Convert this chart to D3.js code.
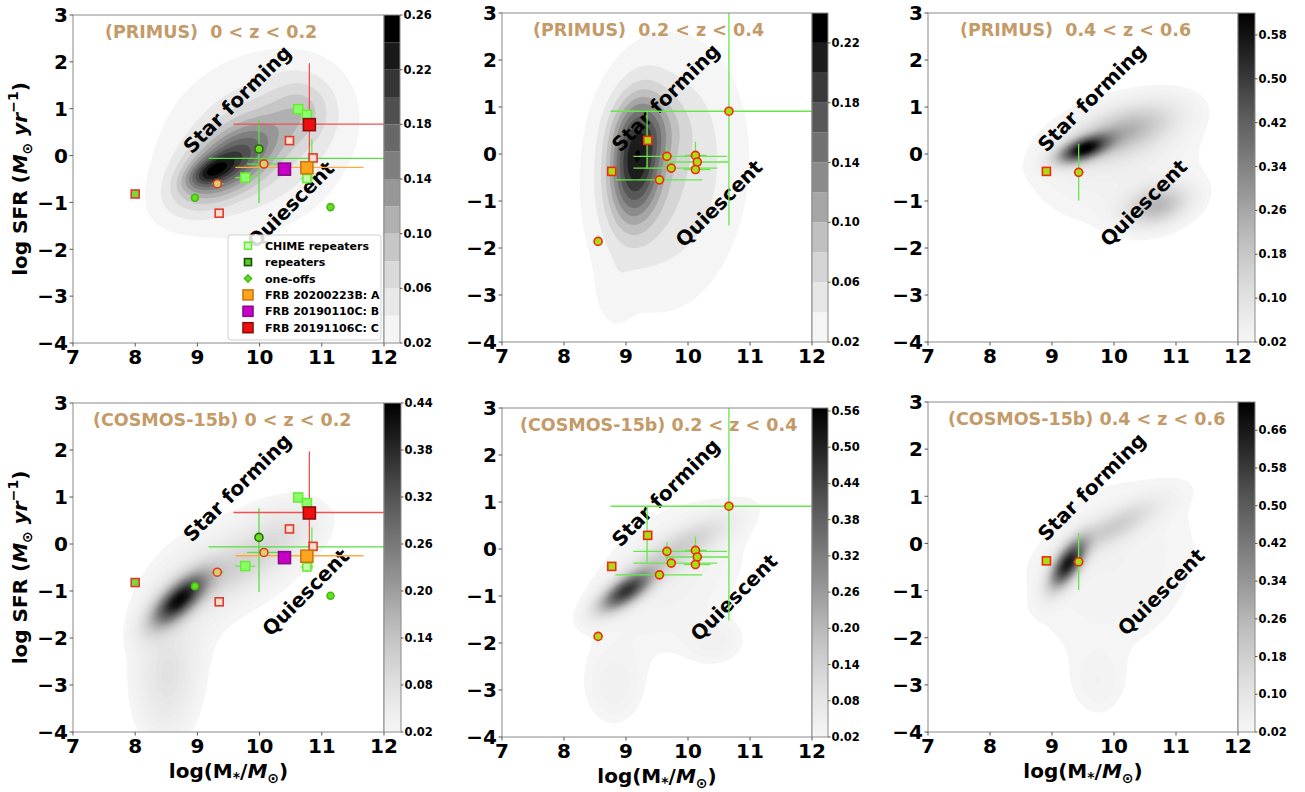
<!DOCTYPE html>
<html><head><meta charset="utf-8">
<script src="https://cdn.jsdelivr.net/npm/d3@7"></script>
<style>
body{margin:0;background:#fff}
svg{display:block}
text{font-family:"DejaVu Sans",sans-serif;font-weight:bold}
</style>
</head><body>
<svg id="chart" width="1305" height="792"></svg>
<script>
// ---------------- DATA ----------------
const xTicks = [7, 8, 9, 10, 11, 12];
const yTicks = [3, 2, 1, 0, -1, -2, -3, -4];
const panelTitles = ["(PRIMUS)  0 < z < 0.2", "(PRIMUS)  0.2 < z < 0.4", "(PRIMUS)  0.4 < z < 0.6",
  "(COSMOS-15b) 0 < z < 0.2", "(COSMOS-15b) 0.2 < z < 0.4", "(COSMOS-15b) 0.4 < z < 0.6"];
const regionLabels = ["Star forming", "Quiescent"];
const legendLabels = ["CHIME repeaters", "repeaters", "one-offs", "FRB 20200223B: A", "FRB 20190110C: B", "FRB 20191106C: C"];
const legendKinds = ["chimeL", "repL", "oneL", "AL", "BL", "CL"];

// colorbar ranges and tick labels
const cbarRanges = [[0.02, 0.26], [0.02, 0.24], [0.02, 0.62], [0.02, 0.44], [0.02, 0.565], [0.02, 0.72]];
const cbarDiscrete = [true, true, false, false, false, false];
const cbarTicksP1 = [0.02, 0.06, 0.10, 0.14, 0.18, 0.22, 0.26];
const cbarTicksP2 = [0.02, 0.06, 0.10, 0.14, 0.18, 0.22];
const cbarTicksP3 = [0.02, 0.10, 0.18, 0.26, 0.34, 0.42, 0.50, 0.58];
const cbarTicksC1 = [0.02, 0.08, 0.14, 0.20, 0.26, 0.32, 0.38, 0.44];
const cbarTicksC2 = [0.02, 0.08, 0.14, 0.20, 0.26, 0.32, 0.38, 0.44, 0.50, 0.56];
const cbarTicksC3 = [0.02, 0.10, 0.18, 0.26, 0.34, 0.42, 0.50, 0.58, 0.66];

// density fields: [cx, cy, sx, sy, rho, amplitude]
const densityPrimusLow = [[9.2, -0.35, 0.25, 0.22, 0.5, 0.08], [9.5, -0.15, 0.55, 0.6, 0.6, 0.14], [9.95, 0.25, 1.05, 1.3, 0.2, 0.065], [10.7, 1.0, 0.35, 0.5, 0, 0.04]];
const densityPrimusMid = [[9.15, -0.2, 0.3, 0.9, 0.15, 0.16], [9.4, 0.6, 0.4, 0.5, 0, 0.035], [9.65, -0.4, 0.9, 2.0, 0.1, 0.06], [8.8, -3.0, 0.2, 0.5, 0, 0.015]];
const densityPrimusHigh = [[9.5, 0.1, 0.28, 0.2, 0.55, 0.5], [10.2, 0.5, 0.55, 0.4, 0.5, 0.2], [10.7, -1.1, 0.35, 0.3, 0.3, 0.2], [10.0, -0.2, 1.05, 1.0, 0.1, 0.045]];
const densityCosmosLow = [[8.7, -1.2, 0.3, 0.38, 0.7, 0.35], [9.6, -0.5, 0.7, 0.55, 0.75, 0.07], [8.5, -2.9, 0.35, 0.9, 0, 0.05], [10.4, 0.4, 0.45, 0.45, 0.3, 0.035], [9.5, -0.5, 1.0, 0.95, 0.35, 0.04], [8.6, -2.5, 0.5, 1.3, 0.3, 0.025]];
const densityCosmosMid = [[9.0, -0.9, 0.3, 0.3, 0.7, 0.42], [9.9, 0.05, 0.55, 0.45, 0.8, 0.12], [9.7, -0.6, 1.0, 1.3, 0.35, 0.04], [8.8, -3.0, 0.35, 0.6, 0, 0.035], [10.45, -2.0, 0.35, 0.35, 0, 0.03]];
const densityCosmosHigh = [[9.25, -0.45, 0.2, 0.35, 0.65, 0.6], [10.0, 0.35, 0.5, 0.4, 0.8, 0.16], [10.0, -0.5, 1.08, 1.5, 0.2, 0.04], [9.75, -3.0, 0.3, 0.5, 0, 0.03]];

// FRB host points
const hostsLowZ = [
  {x: 8.00, y: -0.82, kind: "rep"}, {x: 8.96, y: -0.90, kind: "one"}, {x: 9.32, y: -0.60, kind: "oneRed"},
  {x: 9.35, y: -1.23, kind: "repOpen"}, {x: 9.77, y: -0.47, kind: "chime"}, {x: 9.99, y: 0.14, kind: "oneDark"},
  {x: 10.07, y: -0.18, kind: "oneRed"}, {x: 10.48, y: 0.32, kind: "repOpen"}, {x: 10.62, y: 0.99, kind: "chime"},
  {x: 10.76, y: 0.87, kind: "chime"}, {x: 10.76, y: -0.49, kind: "chimeOpen"}, {x: 10.86, y: -0.05, kind: "repOpen"},
  {x: 11.14, y: -1.10, kind: "one"}, {x: 10.40, y: -0.29, kind: "B"}, {x: 10.76, y: -0.26, kind: "A"},
  {x: 10.80, y: 0.66, kind: "C"}
];
const errLowZ = [
  {x: 9.99, y: -0.06, xlo: 9.18, xhi: 12.6, ylo: -1.02, yhi: 0.76, src: "one"},
  {x: 10.07, y: -0.18, xlo: 9.80, xhi: 10.31, src: "one"},
  {x: 9.32, y: -0.60, xlo: 9.23, xhi: 9.42, src: "one"},
  {x: 9.77, y: -0.47, xlo: 9.61, xhi: 9.93, src: "chime"},
  {x: 10.84, y: -0.10, ylo: -0.55, yhi: 0.35, src: "chime"},
  {x: 10.76, y: -0.49, xlo: 10.66, xhi: 10.86, ylo: -0.60, yhi: -0.38, src: "chime"},
  {x: 10.76, y: -0.25, xlo: 9.61, xhi: 11.67, src: "A"},
  {x: 10.80, y: 0.67, xlo: 9.58, xhi: 12.6, ylo: -0.30, yhi: 1.97, src: "C"}
];
const hostsMidZ = [
  {x: 8.77, y: -0.37, kind: "hostSq"}, {x: 9.35, y: 0.29, kind: "hostSq"}, {x: 8.55, y: -1.86, kind: "hostCirc"},
  {x: 9.54, y: -0.55, kind: "hostCirc"}, {x: 9.66, y: -0.05, kind: "hostCirc"}, {x: 9.73, y: -0.30, kind: "hostCirc"},
  {x: 10.12, y: -0.03, kind: "hostCirc"}, {x: 10.15, y: -0.17, kind: "hostCirc"}, {x: 10.12, y: -0.33, kind: "hostCirc"},
  {x: 10.66, y: 0.91, kind: "hostCirc"}
];
const errMidZ = [
  {x: 10.66, y: 0.91, xlo: 8.75, xhi: 12.6, ylo: -1.52, yhi: 3.6, src: "host"},
  {x: 9.34, y: 0.29, ylo: -0.31, yhi: 0.91, src: "host"},
  {x: 9.66, y: -0.05, xlo: 9.12, xhi: 10.63, ylo: -0.25, yhi: 0.15, src: "host"},
  {x: 10.12, y: -0.03, xlo: 9.95, xhi: 10.30, ylo: -0.25, yhi: 0.26, src: "host"},
  {x: 10.15, y: -0.17, xlo: 9.63, xhi: 10.65, src: "host"},
  {x: 9.73, y: -0.30, xlo: 9.12, xhi: 10.47, src: "host"},
  {x: 10.12, y: -0.33, xlo: 9.93, xhi: 10.36, src: "host"},
  {x: 9.54, y: -0.55, xlo: 8.83, xhi: 10.23, src: "host"}
];
const hostsHighZ = [{x: 8.91, y: -0.37, kind: "hostSq"}, {x: 9.43, y: -0.39, kind: "hostCirc"}];
const errHighZ = [{x: 9.43, y: -0.39, xlo: 9.35, xhi: 9.52, ylo: -0.99, yhi: 0.22, src: "host"}];

// ---------------- LAYOUT / STYLE ----------------
const layout = [
  {l: 73, r: 384, t: 15, b: 343, tx: 32, cbw: 16},
  {l: 502, r: 812, t: 13, b: 342, tx: 31, cbw: 16},
  {l: 928, r: 1238, t: 13, b: 342, tx: 32, cbw: 17},
  {l: 73, r: 384, t: 403, b: 732, tx: 20, cbw: 17},
  {l: 502, r: 812, t: 408, b: 737, tx: 18, cbw: 16},
  {l: 928, r: 1238, t: 402, b: 732, tx: 20, cbw: 17}
];
const panelDensity = [densityPrimusLow, densityPrimusMid, densityPrimusHigh, densityCosmosLow, densityCosmosMid, densityCosmosHigh];
const panelCbarTicks = [cbarTicksP1, cbarTicksP2, cbarTicksP3, cbarTicksC1, cbarTicksC2, cbarTicksC3];
const panelHosts = [hostsLowZ, hostsMidZ, hostsHighZ, hostsLowZ, hostsMidZ, hostsHighZ];
const panelErr = [errLowZ, errMidZ, errHighZ, errLowZ, errMidZ, errHighZ];
const starPos = [9.64, 1.2];
const quiesPos = [[10.5, -1.05], [10.5, -1.05], [10.48, -1.04], [10.74, -1.03], [10.74, -1.03], [10.76, -1.03]];

const markerStyle = {
  chime: {shape: "sq", size: 9, fill: "#8cff6a", stroke: "#66ee33"},
  chimeOpen: {shape: "sq", size: 8, fill: "#c8ffb0", stroke: "#66ee33"},
  chimeL: {shape: "sq", size: 7, fill: "#ccffbb", stroke: "#66ee33"},
  rep: {shape: "sq", size: 8, fill: "#7ad83a", stroke: "#e03a2a"},
  repL: {shape: "sq", size: 7, fill: "#55cc22", stroke: "#1d4d0a"},
  repOpen: {shape: "sq", size: 8, fill: "#f8ddd0", stroke: "#e03a2a"},
  one: {shape: "circ", size: 7, fill: "#66dd22", stroke: "#44bb11"},
  oneL: {shape: "dia", size: 7, fill: "#66dd22", stroke: "#44bb11"},
  oneDark: {shape: "circ", size: 8, fill: "#66dd22", stroke: "#2c6a10"},
  oneRed: {shape: "circ", size: 8, fill: "#d8d070", stroke: "#e03a2a"},
  A: {shape: "sq", size: 12, fill: "#ffa41c", stroke: "#c77a10"},
  B: {shape: "sq", size: 12, fill: "#c800c8", stroke: "#8a0a8a"},
  C: {shape: "sq", size: 12, fill: "#ee1010", stroke: "#8a1010"},
  AL: {shape: "sq", size: 10, fill: "#ffa41c", stroke: "#c77a10"},
  BL: {shape: "sq", size: 10, fill: "#c800c8", stroke: "#8a0a8a"},
  CL: {shape: "sq", size: 10, fill: "#ee1010", stroke: "#8a1010"},
  hostSq: {shape: "sq", size: 8, fill: "#aadd15", stroke: "#ee2a10"},
  hostCirc: {shape: "circ", size: 8, fill: "#aadd15", stroke: "#ee2a10"}
};
const errColor = {one: "#55e040", chime: "#66ee44", host: "#66e84a", A: "#ffaa40", C: "#f05050"};
const titleColor = "#c49a68";

// ---------------- DRAW ----------------
const svg = d3.select("#chart");
const greys = d3.interpolateGreys;
const shade = f => greys(0.08 + 0.92 * Math.max(0, Math.min(1, f)));

function densityAt(params, x, y) {
  let s = 0;
  for (const [cx, cy, sx, sy, rho, a] of params) {
    const dx = (x - cx) / sx, dy = (y - cy) / sy;
    const q = (dx * dx - 2 * rho * dx * dy + dy * dy) / (1 - rho * rho);
    s += a * Math.exp(-0.5 * q);
  }
  return s;
}

function drawMarker(g, cx, cy, kind) {
  const st = markerStyle[kind];
  const s = st.size;
  let el;
  if (st.shape === "sq") {
    el = g.append("rect").attr("x", cx - s / 2).attr("y", cy - s / 2).attr("width", s).attr("height", s);
  } else if (st.shape === "circ") {
    el = g.append("circle").attr("cx", cx).attr("cy", cy).attr("r", s / 2);
  } else {
    const h = s / 2;
    el = g.append("path").attr("d", `M${cx},${cy - h}L${cx + h},${cy}L${cx},${cy + h}L${cx - h},${cy}Z`);
  }
  el.attr("fill", st.fill).attr("stroke", st.stroke).attr("stroke-width", 1.6);
}

const nx = 200, ny = 280;

layout.forEach((L, pi) => {
  const g = svg.append("g");
  const x = d3.scaleLinear().domain([7, 12]).range([L.l, L.r]);
  const y = d3.scaleLinear().domain([-4, 3]).range([L.b, L.t]);
  const clipId = "clip" + pi;
  svg.append("clipPath").attr("id", clipId).append("rect")
    .attr("x", L.l).attr("y", L.t).attr("width", L.r - L.l).attr("height", L.b - L.t);
  const plot = g.append("g").attr("clip-path", `url(#${clipId})`);

  // density grid
  const params = panelDensity[pi];
  const values = new Float64Array(nx * ny);
  for (let j = 0; j < ny; j++) {
    const yy = -4 + (j + 0.5) * 7 / ny;
    for (let i = 0; i < nx; i++) {
      const xx = 7 + (i + 0.5) * 5 / nx;
      values[i + j * nx] = densityAt(params, xx, yy);
    }
  }
  const [vmin, vmax] = cbarRanges[pi];
  let thresholds, bandColor;
  if (cbarDiscrete[pi]) {
    const nb = Math.round((vmax - vmin) / 0.02);
    thresholds = d3.range(nb).map(i => vmin + i * 0.02);
    bandColor = (i) => shade(i / (nb - 1));
  } else {
    const nb = 70;
    thresholds = d3.range(nb).map(i => vmin + i * (vmax - vmin) / nb);
    bandColor = (i) => shade(i / (nb - 1));
  }
  const contours = d3.contours().size([nx, ny]).thresholds(thresholds)(values);
  const proj = d3.geoTransform({
    point: function (gx, gy) { this.stream.point(x(7 + gx * 5 / nx), y(-4 + gy * 7 / ny)); }
  });
  const path = d3.geoPath(proj);
  plot.selectAll("path.kde").data(contours).join("path")
    .attr("class", "kde").attr("d", path)
    .attr("fill", (d, i) => bandColor(i)).attr("stroke", (d, i) => bandColor(i)).attr("stroke-width", 0.3);

  // region labels
  const sp = [x(starPos[0]), y(starPos[1])];
  plot.append("text").attr("transform", `translate(${sp[0]},${sp[1]}) rotate(-45)`)
    .attr("text-anchor", "middle").attr("dy", "0.35em").attr("font-size", 20).attr("fill", "#000")
    .text(regionLabels[0]);
  const qp = [x(quiesPos[pi][0]), y(quiesPos[pi][1])];
  plot.append("text").attr("transform", `translate(${qp[0]},${qp[1]}) rotate(-45)`)
    .attr("text-anchor", "middle").attr("dy", "0.35em").attr("font-size", 20).attr("fill", "#000")
    .text(regionLabels[1]);

  // error bars
  panelErr[pi].forEach(e => {
    const c = errColor[e.src];
    if (e.xlo !== undefined) plot.append("line").attr("x1", x(e.xlo)).attr("x2", x(e.xhi)).attr("y1", y(e.y)).attr("y2", y(e.y))
      .attr("stroke", c).attr("stroke-width", 1.3);
    if (e.ylo !== undefined) plot.append("line").attr("x1", x(e.x)).attr("x2", x(e.x)).attr("y1", y(e.ylo)).attr("y2", y(e.yhi))
      .attr("stroke", c).attr("stroke-width", 1.3);
  });
  // markers
  panelHosts[pi].forEach(p => drawMarker(plot, x(p.x), y(p.y), p.kind));

  // title
  g.append("text").attr("x", L.l + L.tx).attr("y", L.t + 23).attr("font-size", 17.5).attr("fill", titleColor)
    .style("white-space", "pre").attr("xml:space", "preserve")
    .text(panelTitles[pi]);

  // frame
  g.append("rect").attr("x", L.l).attr("y", L.t).attr("width", L.r - L.l).attr("height", L.b - L.t)
    .attr("fill", "none").attr("stroke", "#8a8a8a").attr("stroke-width", 1);

  // ticks & labels
  xTicks.forEach(v => {
    g.append("line").attr("x1", x(v)).attr("x2", x(v)).attr("y1", L.b).attr("y2", L.b + 3.5).attr("stroke", "#555");
    g.append("text").attr("x", x(v)).attr("y", L.b + 21).attr("text-anchor", "middle").attr("font-size", 20)
      .text(d3.format("d")(v));
  });
  yTicks.forEach(v => {
    g.append("line").attr("x1", L.l - 3.5).attr("x2", L.l).attr("y1", y(v)).attr("y2", y(v)).attr("stroke", "#555");
    g.append("text").attr("x", L.l - 5).attr("y", y(v) + 7.3).attr("text-anchor", "end").attr("font-size", 20)
      .text(d3.format("d")(v));
  });

  // colorbar
  const cbx = L.r, cbw = L.cbw;
  const cy = d3.scaleLinear().domain([vmin, vmax]).range([L.b, L.t]);
  if (cbarDiscrete[pi]) {
    thresholds.forEach((t, i) => {
      g.append("rect").attr("x", cbx).attr("y", cy(t + 0.02)).attr("width", cbw).attr("height", cy(t) - cy(t + 0.02))
        .attr("fill", bandColor(i));
    });
  } else {
    const gid = "grad" + pi;
    const grad = svg.append("defs").append("linearGradient").attr("id", gid)
      .attr("x1", 0).attr("y1", 1).attr("x2", 0).attr("y2", 0);
    d3.range(0, 1.0001, 0.05).forEach(f => grad.append("stop").attr("offset", f).attr("stop-color", shade(f)));
    g.append("rect").attr("x", cbx).attr("y", L.t).attr("width", cbw).attr("height", L.b - L.t).attr("fill", `url(#${gid})`);
  }
  g.append("rect").attr("x", cbx).attr("y", L.t).attr("width", cbw).attr("height", L.b - L.t)
    .attr("fill", "none").attr("stroke", "#8a8a8a");
  panelCbarTicks[pi].forEach(v => {
    g.append("line").attr("x1", cbx + cbw).attr("x2", cbx + cbw + 2.5).attr("y1", cy(v)).attr("y2", cy(v)).attr("stroke", "#555");
    g.append("text").attr("x", cbx + cbw + 3.5).attr("y", cy(v) + 4).attr("font-size", 11.5).text(d3.format(".2f")(v));
  });

  // axis labels
  if (pi >= 3) {
    const t = g.append("text").attr("x", (L.l + L.r) / 2).attr("y", L.b + 46).attr("text-anchor", "middle").attr("font-size", 20);
    t.append("tspan").text("log(M");
    t.append("tspan").attr("font-size", 14).attr("dy", 4).text("*");
    t.append("tspan").attr("dy", -4).text("/");
    t.append("tspan").attr("font-style", "italic").text("M");
    t.append("tspan").attr("font-size", 14).attr("dy", 5).text("⊙");
    t.append("tspan").attr("dy", -5).text(")");
  }
  if (pi === 0 || pi === 3) {
    const t = g.append("text").attr("transform", `translate(27,${(L.t + L.b) / 2}) rotate(-90)`)
      .attr("text-anchor", "middle").attr("font-size", 20);
    t.append("tspan").text("log SFR (");
    t.append("tspan").attr("font-style", "italic").text("M");
    t.append("tspan").attr("font-size", 14).attr("dy", 5).text("⊙");
    t.append("tspan").attr("dy", -5).attr("font-style", "italic").text(" yr");
    t.append("tspan").attr("font-size", 14).attr("dy", -9).text("−1");
    t.append("tspan").attr("dy", 9).text(")");
  }

  // legend (first panel only)
  if (pi === 0) {
    const lg = g.append("g").attr("transform", `translate(${L.l + 155},${L.t + 220})`);
    lg.append("rect").attr("width", 153).attr("height", 105).attr("rx", 3)
      .attr("fill", "#fff").attr("fill-opacity", 0.85).attr("stroke", "#d0d0d0");
    legendLabels.forEach((lab, i) => {
      const yy = 10.7 + i * 16.4;
      drawMarker(lg, 20, yy, legendKinds[i]);
      lg.append("text").attr("x", 37).attr("y", yy + 4).attr("font-size", 11).text(lab);
    });
  }
});
</script>
</body></html>
